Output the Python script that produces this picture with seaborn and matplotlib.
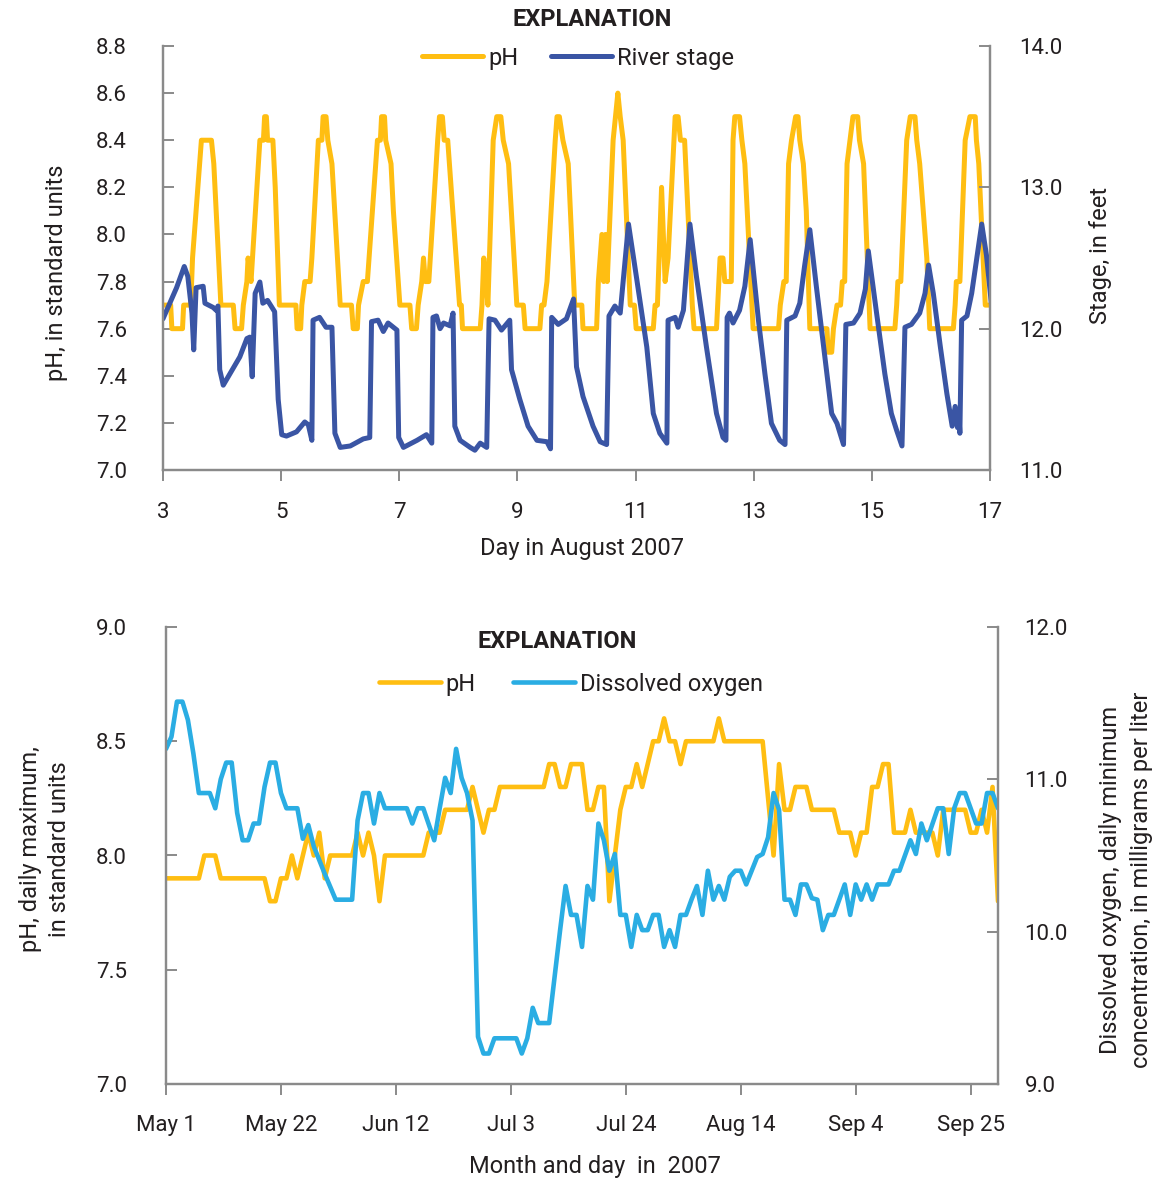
import numpy as np
import pandas as pd
import matplotlib
matplotlib.use("Agg")
import matplotlib.pyplot as plt
import seaborn as sns

sns.set_theme(style="white")
plt.rcParams['font.family'] = ['Roboto', 'DejaVu Sans']

# ---------------- Hourly record, August 3-17, 2007 ----------------
# pH, in standard units (day of August, value)
aug_ph_day = [
    3.00, 3.13, 3.15, 3.33, 3.35, 3.47, 3.50, 3.65, 3.82, 3.86, 3.98,
    4.19, 4.22, 4.33, 4.36, 4.42, 4.44, 4.49, 4.64, 4.70, 4.72, 4.75, 4.77, 4.86, 4.90, 4.97,
    5.25, 5.27, 5.33, 5.35, 5.40, 5.49, 5.52, 5.63, 5.69, 5.71, 5.76, 5.79, 5.86, 6.00,
    6.19, 6.22, 6.29, 6.31, 6.39, 6.46, 6.63, 6.68, 6.70, 6.75, 6.77, 6.86, 6.90, 7.01,
    7.18, 7.21, 7.29, 7.32, 7.38, 7.41, 7.44, 7.50, 7.65, 7.68, 7.73, 7.76, 7.82, 8.02,
    8.05, 8.07, 8.37, 8.40, 8.43, 8.47, 8.50, 8.59, 8.65, 8.72, 8.76, 8.85, 8.99,
    9.10, 9.13, 9.38, 9.41, 9.45, 9.50, 9.64, 9.67, 9.71, 9.77, 9.86, 9.97, 10.09,
    10.11, 10.34, 10.37, 10.43, 10.46, 10.49, 10.52, 10.62, 10.70, 10.74, 10.79, 10.91, 10.98,
    11.01, 11.30, 11.33, 11.37, 11.44, 11.50, 11.55, 11.67, 11.72, 11.76, 11.83, 11.96,
    11.99, 12.37, 12.39, 12.41, 12.43, 12.48, 12.51, 12.62, 12.65, 12.68, 12.76, 12.80, 12.85, 12.91,
    12.99, 13.42, 13.45, 13.51, 13.55, 13.59, 13.64, 13.71, 13.75, 13.78, 13.84, 13.89,
    13.95, 14.24, 14.26, 14.32, 14.35, 14.41, 14.47, 14.50, 14.54, 14.58, 14.63, 14.68, 14.76,
    14.79, 14.86, 14.97, 15.39, 15.42, 15.44, 15.49, 15.59, 15.65, 15.73, 15.76, 15.81, 15.93,
    15.98, 16.38, 16.41, 16.43, 16.49, 16.58, 16.66, 16.75, 16.77, 16.81, 16.92, 17.02,
]
aug_ph = [
    7.7, 7.7, 7.6, 7.6, 7.7, 7.7, 7.9, 8.4, 8.4, 8.3, 7.7,
    7.7, 7.6, 7.6, 7.7, 7.8, 7.9, 7.8, 8.4, 8.4, 8.5, 8.5, 8.4, 8.4, 8.2, 7.7,
    7.7, 7.6, 7.6, 7.7, 7.8, 7.8, 7.9, 8.4, 8.4, 8.5, 8.5, 8.4, 8.3, 7.7,
    7.7, 7.6, 7.6, 7.7, 7.8, 7.8, 8.4, 8.4, 8.5, 8.5, 8.4, 8.3, 8.1, 7.7,
    7.7, 7.6, 7.6, 7.7, 7.8, 7.9, 7.8, 7.8, 8.4, 8.5, 8.5, 8.4, 8.4, 7.7,
    7.7, 7.6, 7.6, 7.7, 7.9, 7.8, 7.7, 8.4, 8.5, 8.5, 8.4, 8.3, 7.7,
    7.7, 7.6, 7.6, 7.7, 7.7, 7.8, 8.4, 8.5, 8.5, 8.4, 8.3, 7.7, 7.7,
    7.6, 7.6, 7.8, 8.0, 7.8, 8.0, 7.8, 8.4, 8.6, 8.5, 8.4, 7.7, 7.7,
    7.6, 7.6, 7.7, 7.7, 8.2, 7.8, 7.9, 8.5, 8.5, 8.4, 8.4, 7.7,
    7.6, 7.6, 7.7, 7.8, 7.9, 7.9, 7.8, 7.8, 8.4, 8.5, 8.5, 8.4, 8.3, 8.0,
    7.6, 7.6, 7.7, 7.8, 7.8, 8.3, 8.4, 8.5, 8.5, 8.4, 8.3, 8.1,
    7.6, 7.6, 7.5, 7.5, 7.6, 7.7, 7.7, 7.8, 7.8, 8.3, 8.4, 8.5, 8.5,
    8.4, 8.3, 7.6, 7.6, 7.7, 7.8, 7.8, 8.4, 8.5, 8.5, 8.4, 8.3, 7.9,
    7.6, 7.6, 7.7, 7.8, 7.8, 8.4, 8.5, 8.5, 8.4, 8.3, 7.7, 7.7,
]

# River stage, in feet (day of August, value)
aug_stage_day = [
    3.00, 3.23, 3.36, 3.42, 3.49, 3.52, 3.56, 3.68, 3.71, 3.85, 3.90, 3.93, 3.96,
    4.02, 4.30, 4.42, 4.47, 4.51, 4.56, 4.64, 4.69, 4.77, 4.89, 4.95,
    5.01, 5.09, 5.26, 5.40, 5.46, 5.52, 5.54, 5.65, 5.76, 5.86, 5.91,
    6.00, 6.17, 6.39, 6.50, 6.53, 6.64, 6.73, 6.81, 6.96, 6.99,
    7.07, 7.30, 7.46, 7.55, 7.57, 7.63, 7.69, 7.75, 7.86, 7.91, 7.94,
    8.03, 8.20, 8.28, 8.37, 8.48, 8.52, 8.62, 8.73, 8.87, 8.90,
    9.04, 9.18, 9.33, 9.50, 9.56, 9.58, 9.69, 9.83, 9.95,
    10.00, 10.11, 10.28, 10.40, 10.51, 10.55, 10.65, 10.74, 10.88,
    11.02, 11.19, 11.30, 11.41, 11.53, 11.55, 11.67, 11.72, 11.81, 11.92,
    12.03, 12.20, 12.37, 12.48, 12.53, 12.55, 12.59, 12.65, 12.76, 12.85, 12.94,
    13.08, 13.19, 13.30, 13.44, 13.53, 13.56, 13.70, 13.78, 13.86, 13.95,
    14.06, 14.21, 14.32, 14.41, 14.52, 14.56, 14.69, 14.80, 14.89, 14.94,
    15.08, 15.22, 15.33, 15.42, 15.51, 15.56, 15.67, 15.81, 15.90, 15.96,
    16.04, 16.16, 16.27, 16.36, 16.41, 16.45, 16.47, 16.49, 16.52, 16.61, 16.69, 16.86,
    16.94, 17.03,
]
aug_stage = [
    12.07, 12.29, 12.44, 12.37, 12.11, 11.85, 12.29, 12.30, 12.18, 12.15, 12.13, 12.16, 11.71,
    11.60, 11.80, 11.93, 11.94, 11.66, 12.25, 12.33, 12.18, 12.20, 12.12, 11.50,
    11.25, 11.24, 11.27, 11.34, 11.32, 11.21, 12.06, 12.08, 12.01, 12.01, 11.26,
    11.16, 11.17, 11.22, 11.23, 12.05, 12.06, 11.98, 12.04, 11.99, 11.23,
    11.16, 11.21, 11.25, 11.19, 12.08, 12.09, 12.00, 12.04, 12.02, 12.11, 11.31,
    11.21, 11.16, 11.14, 11.19, 11.16, 12.07, 12.06, 11.99, 12.06, 11.71,
    11.50, 11.31, 11.21, 11.20, 11.15, 12.08, 12.03, 12.07, 12.21,
    11.73, 11.52, 11.31, 11.20, 11.18, 12.09, 12.16, 12.11, 12.74,
    12.35, 11.87, 11.40, 11.26, 11.19, 12.06, 12.08, 12.01, 12.13, 12.74,
    12.37, 11.87, 11.40, 11.23, 11.21, 12.08, 12.11, 12.04, 12.13, 12.30, 12.63,
    12.06, 11.68, 11.33, 11.21, 11.18, 12.06, 12.09, 12.18, 12.44, 12.70,
    12.30, 11.78, 11.40, 11.33, 11.18, 12.03, 12.04, 12.11, 12.28, 12.55,
    12.11, 11.68, 11.40, 11.28, 11.17, 12.01, 12.03, 12.11, 12.25, 12.45,
    12.25, 11.87, 11.54, 11.31, 11.45, 11.30, 11.42, 11.26, 12.06, 12.09, 12.25, 12.74,
    12.52, 12.15,
]

aug_ticks = [3, 5, 7, 9, 11, 13, 15, 17]

# ---------------- Daily record, May 1 - September 30, 2007 ----------------
# Daily maximum pH
ph_dates = [
    "05-01", "05-07", "05-08", "05-10", "05-11", "05-19", "05-20", "05-21", "05-22", "05-23",
    "05-24", "05-25", "05-27", "05-28", "05-29", "05-30", "05-31", "06-04", "06-05", "06-06",
    "06-07", "06-08", "06-09", "06-10", "06-17", "06-18", "06-20", "06-21", "06-25", "06-26",
    "06-28", "06-29", "06-30", "07-01", "07-09", "07-10", "07-11", "07-12", "07-13", "07-14",
    "07-16", "07-17", "07-18", "07-19", "07-20", "07-21", "07-23", "07-24", "07-25", "07-26",
    "07-27", "07-29", "07-30", "07-31", "08-01", "08-02", "08-03", "08-04", "08-09", "08-10",
    "08-11", "08-18", "08-20", "08-21", "08-22", "08-23", "08-24", "08-26", "08-27", "08-31",
    "09-01", "09-03", "09-04", "09-05", "09-06", "09-07", "09-08", "09-09", "09-10", "09-11",
    "09-13", "09-14", "09-15", "09-18", "09-19", "09-20", "09-24", "09-25", "09-26", "09-27",
    "09-28", "09-29", "09-30",
]
ph_max = [
    7.9, 7.9, 8.0, 8.0, 7.9, 7.9, 7.8, 7.8, 7.9, 7.9,
    8.0, 7.9, 8.1, 8.0, 8.1, 7.9, 8.0, 8.0, 8.1, 8.0,
    8.1, 8.0, 7.8, 8.0, 8.0, 8.1, 8.1, 8.2, 8.2, 8.3,
    8.1, 8.2, 8.2, 8.3, 8.3, 8.4, 8.4, 8.3, 8.3, 8.4,
    8.4, 8.2, 8.2, 8.3, 8.3, 7.8, 8.2, 8.3, 8.3, 8.4,
    8.3, 8.5, 8.5, 8.6, 8.5, 8.5, 8.4, 8.5, 8.5, 8.6,
    8.5, 8.5, 8.0, 8.4, 8.2, 8.2, 8.3, 8.3, 8.2, 8.2,
    8.1, 8.1, 8.0, 8.1, 8.1, 8.3, 8.3, 8.4, 8.4, 8.1,
    8.1, 8.2, 8.1, 8.1, 8.0, 8.2, 8.2, 8.1, 8.1, 8.2,
    8.1, 8.3, 7.8,
]

# Daily minimum dissolved oxygen, mg/L
do_dates = [
    "05-01", "05-02", "05-03", "05-04", "05-05", "05-06", "05-07", "05-09", "05-10", "05-11",
    "05-12", "05-13", "05-14", "05-15", "05-16", "05-17", "05-18", "05-19", "05-20", "05-21",
    "05-22", "05-23", "05-25", "05-26", "05-27", "05-28", "05-30", "06-01", "06-04", "06-05",
    "06-06", "06-07", "06-08", "06-09", "06-10", "06-14", "06-15", "06-16", "06-17", "06-19",
    "06-20", "06-21", "06-22", "06-23", "06-24", "06-25", "06-26", "06-27", "06-28", "06-29",
    "06-30", "07-04", "07-05", "07-06", "07-07", "07-08", "07-10", "07-12", "07-13", "07-14",
    "07-15", "07-16", "07-17", "07-18", "07-19", "07-20", "07-21", "07-22", "07-23", "07-24",
    "07-25", "07-26", "07-27", "07-28", "07-29", "07-30", "07-31", "08-01", "08-02", "08-03",
    "08-04", "08-05", "08-06", "08-07", "08-08", "08-09", "08-10", "08-11", "08-12", "08-13",
    "08-14", "08-15", "08-17", "08-18", "08-19", "08-20", "08-21", "08-22", "08-23", "08-24",
    "08-25", "08-26", "08-27", "08-28", "08-29", "08-30", "08-31", "09-02", "09-03", "09-04",
    "09-05", "09-06", "09-07", "09-08", "09-10", "09-11", "09-12", "09-14", "09-15", "09-16",
    "09-17", "09-19", "09-20", "09-21", "09-22", "09-23", "09-24", "09-26", "09-27", "09-28",
    "09-29", "09-30",
]
do_min = [
    11.20, 11.28, 11.51, 11.51, 11.39, 11.17, 10.91, 10.91, 10.81, 11.00,
    11.11, 11.11, 10.78, 10.60, 10.60, 10.71, 10.71, 10.95, 11.11, 11.11,
    10.91, 10.81, 10.81, 10.61, 10.70, 10.56, 10.38, 10.21, 10.21, 10.73,
    10.91, 10.91, 10.71, 10.91, 10.81, 10.81, 10.71, 10.81, 10.81, 10.60,
    10.81, 11.01, 10.91, 11.20, 11.01, 10.91, 10.73, 9.31, 9.20, 9.20,
    9.30, 9.30, 9.20, 9.30, 9.50, 9.40, 9.40, 10.01, 10.30, 10.11,
    10.11, 9.90, 10.30, 10.21, 10.71, 10.60, 10.40, 10.51, 10.11, 10.11,
    9.90, 10.11, 10.01, 10.01, 10.11, 10.11, 9.90, 10.01, 9.90, 10.11,
    10.11, 10.21, 10.30, 10.11, 10.40, 10.21, 10.30, 10.21, 10.36, 10.40,
    10.40, 10.31, 10.49, 10.51, 10.62, 10.91, 10.80, 10.21, 10.21, 10.11,
    10.31, 10.31, 10.22, 10.21, 10.01, 10.11, 10.11, 10.31, 10.11, 10.31,
    10.21, 10.31, 10.21, 10.31, 10.31, 10.40, 10.40, 10.60, 10.51, 10.71,
    10.60, 10.81, 10.81, 10.51, 10.81, 10.91, 10.91, 10.71, 10.71, 10.91,
    10.91, 10.81,
]

season_ticks = ["05-01", "05-22", "06-12", "07-03", "07-24", "08-14", "09-04", "09-25"]
season_tick_labels = ["May 1", "May 22", "Jun 12", "Jul 3", "Jul 24", "Aug 14", "Sep 4", "Sep 25"]

# ---------------- Styling ----------------
YELLOW = "#FFBE12"
NAVY = "#3A55A4"
SKY = "#2AADE3"
SPINE = "#8A8A8A"
INK = "#231F20"
W, H = 1164, 1183
LW = 3.6
TICK_FS = 16
LABEL_FS = 17


def style_axes(ax, axr, xpad, lpad, rpad):
    for a in (ax, axr):
        a.spines["top"].set_visible(False)
        for s in ("left", "right", "bottom"):
            a.spines[s].set_color(SPINE)
            a.spines[s].set_linewidth(1.6)
        a.grid(False)
    ax.tick_params(axis="x", direction="out", length=8, width=1.4, color=SPINE,
                   labelsize=TICK_FS, labelcolor=INK, pad=xpad, bottom=True)
    ax.tick_params(axis="y", direction="in", length=8, width=1.4, color=SPINE,
                   labelsize=TICK_FS, labelcolor=INK, pad=lpad, left=True)
    axr.tick_params(axis="y", direction="in", length=8, width=1.4, color=SPINE,
                    labelsize=TICK_FS, labelcolor=INK, pad=rpad, right=True)


def axes_rect(left, top, right, bottom):
    return [left / W, 1 - bottom / H, (right - left) / W, (bottom - top) / H]


fig = plt.figure(figsize=(W / 100, H / 100), dpi=100)

# ---------- Upper panel: pH and river stage ----------
ax1 = fig.add_axes(axes_rect(163, 46, 990, 470))
ax1r = ax1.twinx()
sns.lineplot(x=aug_ph_day, y=aug_ph, ax=ax1, color=YELLOW, linewidth=LW,
             estimator=None, sort=False, label="pH", legend=False)
sns.lineplot(x=aug_stage_day, y=aug_stage, ax=ax1r, color=NAVY, linewidth=LW,
             estimator=None, sort=False, label="River stage", legend=False)
ax1.set_xlim(3, 17)
ax1.set_ylim(7.0, 8.8)
ax1.set_xticks(aug_ticks)
ax1.set_xticklabels([str(t) for t in aug_ticks])
ax1.set_yticks(np.round(np.arange(7.0, 8.81, 0.2), 1))
ax1.set_yticklabels([f"{v:.1f}" for v in np.arange(7.0, 8.81, 0.2)])
ax1r.set_ylim(11.0, 14.0)
ax1r.set_yticks([11, 12, 13, 14])
ax1r.set_yticklabels(["11.0", "12.0", "13.0", "14.0"])
style_axes(ax1, ax1r, xpad=15, lpad=26, rpad=21)

ax1.set_xlabel("Day in August 2007", fontsize=LABEL_FS, color=INK)
ax1.xaxis.set_label_coords((582 - 163) / 827, (470 - 548) / 424)
ax1.xaxis.label.set_va("center")
ax1.set_ylabel("pH, in standard units", fontsize=LABEL_FS, color=INK)
ax1.yaxis.set_label_coords((57 - 163) / 827, (470 - 273) / 424)
ax1.yaxis.label.set_va("center")
ax1r.set_ylabel("Stage, in feet", fontsize=LABEL_FS, color=INK)
ax1r.yaxis.set_label_coords((1100 - 163) / 827, (470 - 255) / 424)
ax1r.yaxis.label.set_va("center")

fig.text(592 / W, 1 - 20 / H, "EXPLANATION", ha="center", va="center",
         fontsize=LABEL_FS, fontweight="bold", color=INK)
h1 = ax1.get_lines() + ax1r.get_lines()
fig.legend(handles=h1, labels=["pH", "River stage"], ncol=2, frameon=False,
           loc="center", bbox_to_anchor=(578 / W, 1 - 58 / H), fontsize=LABEL_FS,
           handlelength=2.6, handletextpad=0.2, columnspacing=1.4, labelcolor=INK)

# ---------- Lower panel: daily pH maximum and DO minimum ----------
ph_t = pd.to_datetime(["2007-" + d for d in ph_dates])
do_t = pd.to_datetime(["2007-" + d for d in do_dates])
tick_t = pd.to_datetime(["2007-" + d for d in season_ticks])

ax2 = fig.add_axes(axes_rect(166, 627, 998, 1084))
ax2r = ax2.twinx()
sns.lineplot(x=ph_t, y=ph_max, ax=ax2, color=YELLOW, linewidth=LW * 0.92,
             estimator=None, sort=False, label="pH", legend=False)
sns.lineplot(x=do_t, y=do_min, ax=ax2r, color=SKY, linewidth=LW * 0.92,
             estimator=None, sort=False, label="Dissolved oxygen", legend=False)
ax2.set_xlim(pd.Timestamp("2007-05-01"), pd.Timestamp("2007-09-30"))
ax2.set_ylim(7.0, 9.0)
ax2.set_xticks(tick_t)
ax2.set_xticklabels(season_tick_labels)
ax2.set_yticks([7.0, 7.5, 8.0, 8.5, 9.0])
ax2.set_yticklabels(["7.0", "7.5", "8.0", "8.5", "9.0"])
ax2r.set_ylim(9.0, 12.0)
ax2r.set_yticks([9, 10, 11, 12])
ax2r.set_yticklabels(["9.0", "10.0", "11.0", "12.0"])
style_axes(ax2, ax2r, xpad=14, lpad=28, rpad=19)

ax2.set_xlabel("Month and day  in  2007", fontsize=LABEL_FS, color=INK)
ax2.xaxis.set_label_coords((595 - 166) / 832, (1084 - 1166) / 457)
ax2.xaxis.label.set_va("center")
ax2.set_ylabel("pH, daily maximum,\nin standard units", fontsize=LABEL_FS,
               color=INK, linespacing=1.35)
ax2.yaxis.set_label_coords((45 - 166) / 832, (1084 - 849) / 457)
ax2.yaxis.label.set_va("center")
ax2r.set_ylabel("Dissolved oxygen, daily minimum\nconcentration, in milligrams per liter",
                fontsize=LABEL_FS, color=INK, linespacing=1.45)
ax2r.yaxis.set_label_coords((1126 - 166) / 832, (1084 - 880) / 457)
ax2r.yaxis.label.set_va("center")

fig.text(557 / W, 1 - 641 / H, "EXPLANATION", ha="center", va="center",
         fontsize=LABEL_FS, fontweight="bold", color=INK)
h2 = ax2.get_lines() + ax2r.get_lines()
fig.legend(handles=h2, labels=["pH", "Dissolved oxygen"], ncol=2, frameon=False,
           loc="center", bbox_to_anchor=(571 / W, 1 - 684 / H), fontsize=LABEL_FS,
           handlelength=2.6, handletextpad=0.2, columnspacing=1.6, labelcolor=INK)

fig.savefig("out.png", dpi=100)
